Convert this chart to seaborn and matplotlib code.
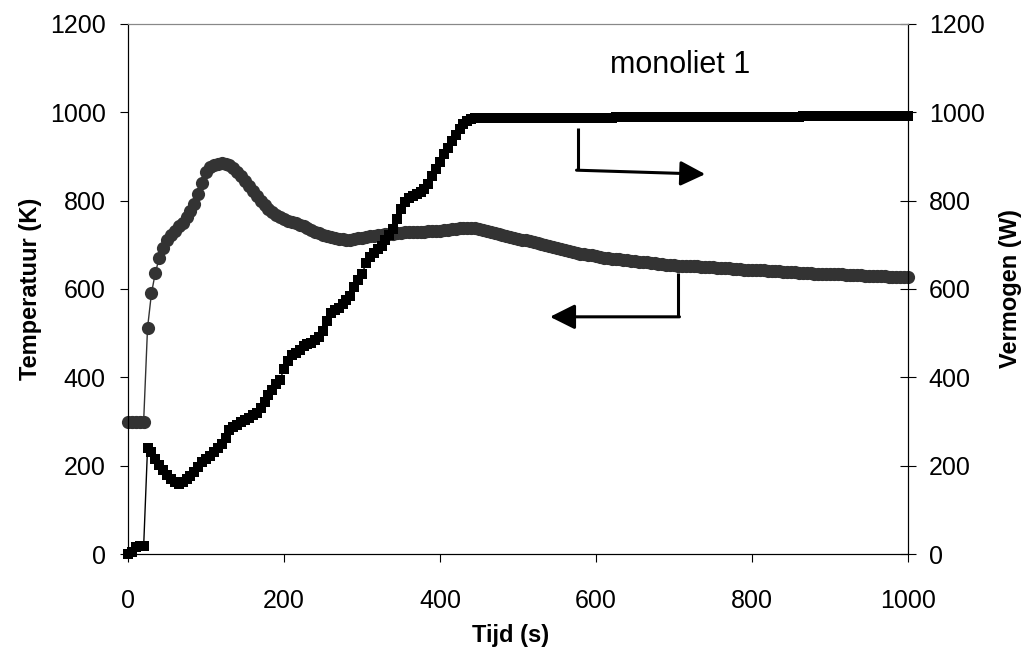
import numpy as np
import pandas as pd
import matplotlib
matplotlib.use("Agg")
import matplotlib.pyplot as plt
import seaborn as sns

# sample times (s), one reading every 5 s
tijd = list(range(0, 1001, 5))

# temperature (K)
temperatuur = [
    300, 300, 300, 300, 300, 512, 590, 637, 670, 692,
    710, 722, 731, 742, 750, 762, 777, 793, 815, 840,
    865, 876, 881, 884, 885, 884, 880, 874, 866, 856,
    845, 833, 821, 810, 800, 790, 781, 774, 768, 763,
    758, 755, 752, 750, 746, 742, 738, 734, 730, 727,
    723, 720, 718, 716, 714, 713, 712, 712, 713, 715,
    716, 718, 720, 721, 722, 723, 724, 724, 725, 726,
    727, 728, 728, 729, 729, 730, 730, 731, 731, 732,
    732, 733, 734, 735, 736, 737, 737, 737, 737, 737,
    735, 733, 731, 729, 727, 725, 723, 720, 717, 715,
    713, 711, 710, 708, 706, 704, 702, 700, 697, 695,
    693, 690, 688, 686, 684, 682, 680, 679, 677, 676,
    674, 673, 671, 670, 669, 668, 667, 666, 665, 664,
    663, 662, 661, 660, 659, 658, 657, 656, 655, 655,
    654, 653, 653, 652, 652, 651, 651, 650, 650, 649,
    649, 648, 648, 647, 647, 646, 646, 645, 644, 644,
    643, 643, 642, 642, 641, 641, 640, 640, 639, 639,
    638, 638, 637, 637, 636, 636, 635, 635, 635, 634,
    634, 633, 633, 633, 632, 632, 631, 631, 631, 630,
    630, 630, 629, 629, 629, 628, 628, 628, 628, 627,
    627,
]

# power (W)
vermogen = [
    0, 5, 15, 17, 17, 241, 232, 216, 202, 190,
    180, 170, 162, 158, 162, 170, 177, 186, 198, 208,
    216, 223, 231, 240, 248, 262, 280, 288, 293, 298,
    304, 309, 314, 320, 330, 345, 360, 372, 384, 395,
    420, 438, 450, 456, 462, 470, 475, 478, 484, 492,
    505, 528, 545, 552, 558, 565, 575, 585, 605, 620,
    634, 658, 672, 682, 690, 698, 712, 722, 735, 758,
    780, 796, 805, 810, 816, 820, 826, 838, 856, 872,
    888, 905, 920, 934, 948, 962, 974, 981, 986, 987,
    988, 988, 988, 988, 988, 988, 988, 988, 988, 988,
    988, 988, 988, 988, 988, 988, 988, 988, 988, 988,
    988, 988, 988, 988, 988, 988, 988, 988, 988, 988,
    988, 988, 988, 988, 988, 990, 990, 990, 990, 990,
    990, 990, 990, 990, 990, 990, 990, 990, 990, 990,
    990, 990, 990, 990, 990, 990, 990, 990, 990, 990,
    990, 990, 990, 990, 990, 990, 990, 990, 990, 990,
    990, 990, 990, 990, 990, 990, 990, 990, 990, 990,
    990, 990, 990, 992, 992, 992, 992, 992, 992, 992,
    992, 992, 992, 992, 992, 992, 992, 992, 992, 992,
    992, 992, 992, 992, 992, 992, 992, 992, 992, 992,
    992,
]

df = pd.DataFrame({"tijd": tijd, "temperatuur": temperatuur, "vermogen": vermogen})

sns.set_style("ticks")
plt.rcParams["font.family"] = ["Liberation Sans", "DejaVu Sans"]
plt.rcParams["text.color"] = "black"
plt.rcParams["axes.labelcolor"] = "black"

fig, ax = plt.subplots(figsize=(10.26, 6.52), dpi=100)
fig.subplots_adjust(left=0.1248, right=0.8850, top=0.9632, bottom=0.1503)
ax2 = ax.twinx()

sns.lineplot(data=df, x="tijd", y="temperatuur", ax=ax, color="#333333",
             linewidth=1.0, marker="o", markersize=9.5, markeredgewidth=0,
             clip_on=False)
sns.lineplot(data=df, x="tijd", y="vermogen", ax=ax2, color="black",
             linewidth=1.0, marker="s", markersize=6.5, markeredgewidth=0,
             clip_on=False)

for a in (ax, ax2):
    a.set_xlim(0, 1000)
    a.set_ylim(0, 1200)
    a.set_yticks(range(0, 1201, 200))
    for s in a.spines.values():
        s.set_linewidth(0.8)
        s.set_color("black")
    a.spines["top"].set_color("#888888")
ax.set_xticks(range(0, 1001, 200))

ax.tick_params(axis="both", direction="out", length=6, width=0.8,
               labelsize=18, pad=10, colors="black")
ax.tick_params(axis="x", pad=19)
ax2.tick_params(axis="y", direction="inout", length=12, width=0.8,
                labelsize=18, pad=9, colors="black")

ax.set_xlabel("Tijd (s)", fontsize=17, fontweight="bold")
ax.xaxis.set_label_coords(0.491, -0.133)
ax.set_ylabel("Temperatuur (K)", fontsize=17, fontweight="bold", labelpad=6)
ax2.set_ylabel("Vermogen (W)", fontsize=17, fontweight="bold", labelpad=10)

# pointer arrows telling which axis belongs to which curve
ax2.plot([577, 577], [964, 869], color="black", lw=2.2, solid_capstyle="butt")
ax2.annotate("", xy=(740, 860), xytext=(575, 869),
             arrowprops=dict(arrowstyle="-|>", color="black", lw=2.2,
                             mutation_scale=38, shrinkA=0, shrinkB=0))
ax2.plot([705, 705], [636, 537], color="black", lw=2.2, solid_capstyle="butt")
ax2.annotate("", xy=(541, 537), xytext=(707, 537),
             arrowprops=dict(arrowstyle="-|>", color="black", lw=2.2,
                             mutation_scale=38, shrinkA=0, shrinkB=0))

ax2.text(708, 1107, "monoliet 1", fontsize=22, ha="center", va="center",
         color="black")

plt.savefig("out.png", dpi=100)
